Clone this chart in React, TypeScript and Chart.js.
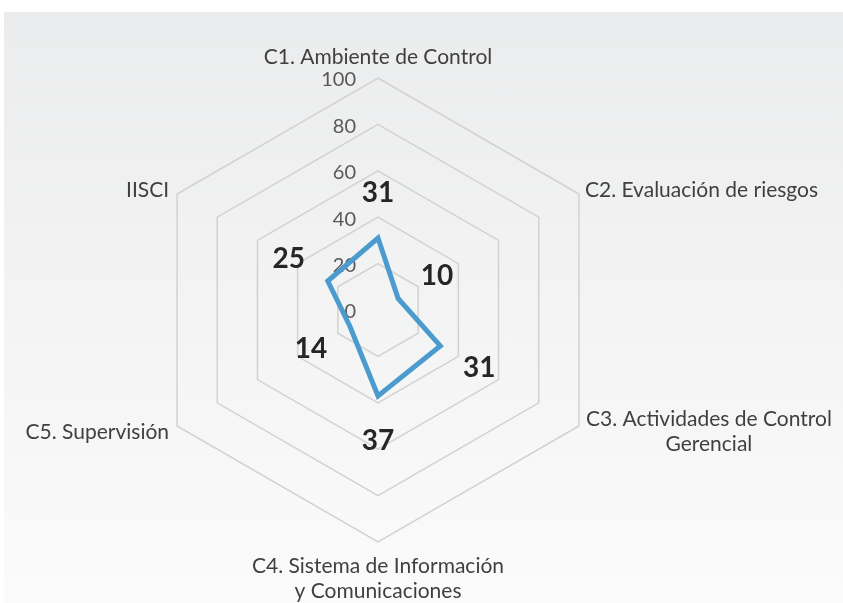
import React, { useEffect, useRef } from "react";
import { Chart, registerables } from "chart.js";

Chart.register(...registerables);

const categories: (string | string[])[] = [
  "C1. Ambiente de Control",
  "C2. Evaluación de riesgos",
  ["C3. Actividades de Control", "Gerencial"],
  ["C4. Sistema de Información", "y Comunicaciones"],
  "C5. Supervisión",
  "IISCI",
];
const values = [31, 10, 31, 37, 14, 25];
const tickValues = [0, 20, 40, 60, 80, 100];

const FONT = "Lato, 'Open Sans', sans-serif";

const labelsPlugin = {
  id: "customLabels",
  beforeDatasetsDraw(chart: any) {
    const scale = chart.scales.r;
    const ctx = chart.ctx;
    ctx.save();
    ctx.font = `20px ${FONT}`;
    ctx.fillStyle = "#595959";
    ctx.textAlign = "right";
    ctx.textBaseline = "middle";
    tickValues.forEach((v) => {
      const d = scale.getDistanceFromCenterForValue(v);
      ctx.fillText(String(v), scale.xCenter - 22, scale.yCenter - d + 2);
    });
    ctx.restore();
  },
  afterDatasetsDraw(chart: any) {
    const scale = chart.scales.r;
    const ctx = chart.ctx;
    ctx.save();
    ctx.font = `21px ${FONT}`;
    ctx.fillStyle = "#404040";
    ctx.textBaseline = "middle";
    const R = scale.drawingArea;
    categories.forEach((lab, i) => {
      const lines = Array.isArray(lab) ? lab : [lab];
      const p = scale.getPointPosition(i, R);
      const deg = Math.round((scale.getIndexAngle(i) * 180) / Math.PI) % 360;
      const lh = 25;
      if (deg === 0) {
        ctx.textAlign = "center";
        lines.forEach((l, k) => ctx.fillText(l, p.x, p.y - 21 - (lines.length - 1 - k) * lh));
      } else if (deg === 180) {
        ctx.textAlign = "center";
        lines.forEach((l, k) => ctx.fillText(l, p.x, p.y + 24 + k * lh));
      } else {
        const right = deg < 180;
        const upper = deg < 90 || deg > 270;
        const cy = p.y + (upper ? -4 : 6);
        const blockW = Math.max(...lines.map((l) => ctx.measureText(l).width));
        if (lines.length > 1) {
          ctx.textAlign = "center";
          const cx = right ? p.x + 7 + blockW / 2 : p.x - 7 - blockW / 2;
          lines.forEach((l, k) =>
            ctx.fillText(l, cx, cy + (k - (lines.length - 1) / 2) * lh)
          );
        } else {
          ctx.textAlign = right ? "left" : "right";
          ctx.fillText(lines[0], right ? p.x + 6 : p.x - 8, cy);
        }
      }
    });
    ctx.font = `bold 28px ${FONT}`;
    ctx.fillStyle = "#262626";
    ctx.textAlign = "center";
    ctx.textBaseline = "middle";
    values.forEach((v, i) => {
      const p = scale.getPointPosition(i, scale.getDistanceFromCenterForValue(v) + 45);
      ctx.fillText(String(v), p.x, p.y);
    });
    ctx.restore();
  },
};

export default function App() {
  const ref = useRef<HTMLCanvasElement | null>(null);
  useEffect(() => {
    if (!ref.current) return;
    const chart = new Chart(ref.current, {
      type: "radar",
      data: {
        labels: categories as any,
        datasets: [
          {
            data: values,
            borderColor: "#4b9bcf",
            borderWidth: 5,
            pointRadius: 0,
            pointHoverRadius: 0,
            fill: false,
            tension: 0,
            borderJoinStyle: "miter",
          },
        ],
      },
      options: {
        responsive: false,
        animation: false,
        devicePixelRatio: 1,
        layout: { padding: { left: 146, right: 233, top: 78, bottom: 61 } },
        plugins: { legend: { display: false }, tooltip: { enabled: false } },
        scales: {
          r: {
            min: 0,
            max: 100,
            ticks: { display: false, stepSize: 20 },
            grid: { color: "#d2d2d2", lineWidth: 1.5 },
            angleLines: { display: false },
            pointLabels: { display: false },
          },
        },
      },
      plugins: [labelsPlugin],
    });
    return () => chart.destroy();
  }, []);
  return (
    <div style={{ position: "fixed", left: 0, top: 0, width: 843, height: 603, background: "#ffffff" }}>
      <div
        style={{
          position: "absolute",
          left: 4,
          top: 12,
          right: 0,
          bottom: 0,
          background: "linear-gradient(#ebeced, #fbfbfb)",
        }}
      />
      <canvas
        ref={ref}
        width={843}
        height={603}
        style={{ position: "absolute", left: 0, top: 0, width: 843, height: 603 }}
      />
    </div>
  );
}
